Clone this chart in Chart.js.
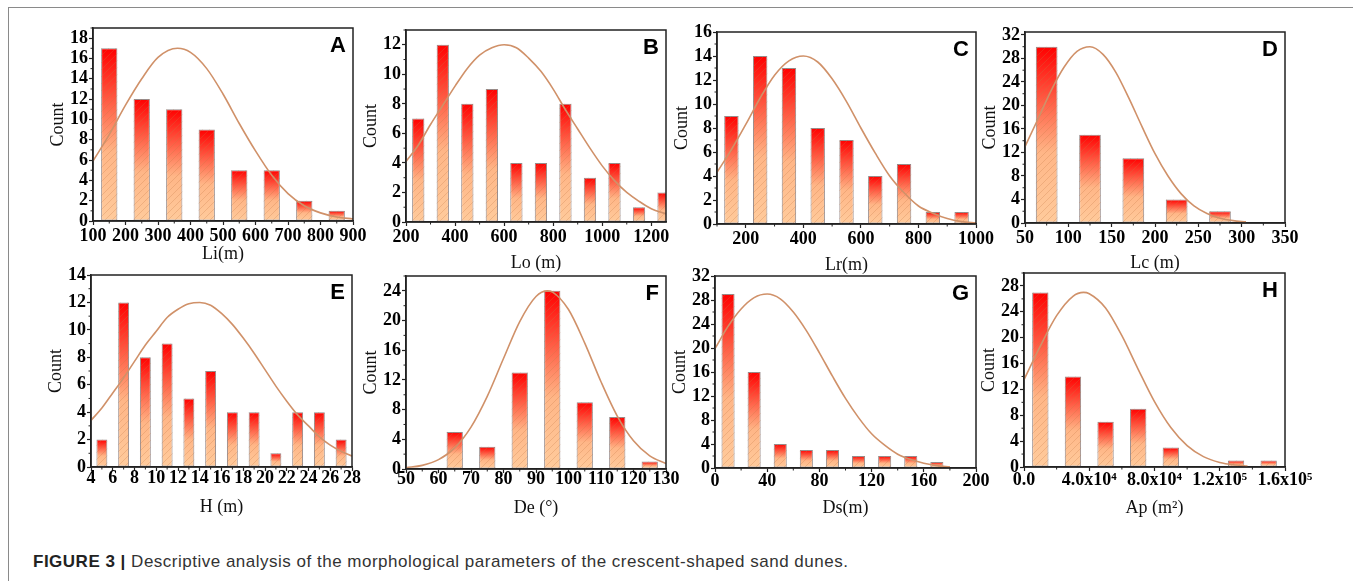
<!DOCTYPE html>
<html>
<head>
<meta charset="utf-8">
<script src="https://cdn.jsdelivr.net/npm/chart.js@4.4.1/dist/chart.umd.min.js"></script>
<style>
  body { margin: 0; width: 1353px; height: 581px; background: #fff; position: relative; overflow: hidden; }
  .frame { position: absolute; left: 8px; top: 7px; width: 1360px; height: 590px; border-top: 1px solid #8a8a8a; border-left: 1px solid #8a8a8a; }
  canvas { position: absolute; }
  .caption { position: absolute; left: 33px; top: 552px; font: 17px "Liberation Sans", Arial, sans-serif; letter-spacing: 0.5px; color: #333; line-height: 20px; white-space: nowrap; }
  .caption b { color: #222; }
</style>
</head>
<body>
<div class="frame"></div>
<div class="caption"><b>FIGURE 3 |</b> Descriptive analysis of the morphological parameters of the crescent-shaped sand dunes.</div>
<script>
// A - Li
const liBins = [150, 250, 350, 450, 550, 650, 750, 850];
const liCounts = [17, 12, 11, 9, 5, 5, 2, 1];
const liFitX = [100, 150, 200, 250, 300, 360, 400, 450, 500, 550, 600, 650, 700, 750, 800, 850, 900];
const liFitY = [5.9, 8.5, 11.4, 14.0, 16.1, 17.0, 16.6, 15.0, 12.5, 9.6, 6.9, 4.5, 2.7, 1.5, 0.8, 0.4, 0.2];
const liXTicks = [100, 200, 300, 400, 500, 600, 700, 800, 900];
const liYTicks = [0, 2, 4, 6, 8, 10, 12, 14, 16, 18];

// B - Lo
const loBins = [250, 350, 450, 550, 650, 750, 850, 950, 1050, 1150, 1250];
const loCounts = [7, 12, 8, 9, 4, 4, 8, 3, 4, 1, 2];
const loFitX = [200, 250, 300, 350, 400, 450, 500, 550, 600, 650, 700, 750, 800, 850, 900, 950, 1000, 1050, 1100, 1150, 1200, 1260];
const loFitY = [4.1, 5.2, 6.6, 7.9, 9.2, 10.4, 11.3, 11.8, 12.0, 11.8, 11.1, 10.2, 9.0, 7.6, 6.3, 5.0, 3.8, 2.8, 2.0, 1.4, 0.9, 0.55];
const loXTicks = [200, 400, 600, 800, 1000, 1200];
const loYTicks = [0, 2, 4, 6, 8, 10, 12];

// C - Lr
const lrBins = [150, 250, 350, 450, 550, 650, 750, 850, 950];
const lrCounts = [9, 14, 13, 8, 7, 4, 5, 1, 1];
const lrFitX = [100, 150, 200, 250, 300, 350, 400, 450, 500, 550, 600, 650, 700, 750, 800, 850, 900, 950, 1000];
const lrFitY = [4.3, 6.2, 8.3, 10.5, 12.4, 13.6, 14.0, 13.5, 12.1, 10.2, 8.0, 5.9, 4.0, 2.6, 1.5, 0.9, 0.45, 0.2, 0.1];
const lrXTicks = [200, 400, 600, 800, 1000];
const lrYTicks = [0, 2, 4, 6, 8, 10, 12, 14, 16];

// D - Lc
const lcBins = [75, 125, 175, 225, 275];
const lcCounts = [30, 15, 11, 4, 2];
const lcFitX = [50, 65, 80, 95, 110, 125, 140, 155, 170, 185, 200, 215, 230, 245, 260, 275, 290, 305];
const lcFitY = [13.0, 17.7, 22.5, 26.5, 29.2, 30.0, 28.7, 25.6, 21.2, 16.4, 11.8, 8.0, 5.0, 2.9, 1.6, 0.8, 0.4, 0.2];
const lcXTicks = [50, 100, 150, 200, 250, 300, 350];
const lcYTicks = [0, 4, 8, 12, 16, 20, 24, 28, 32];

// E - H
const hBins = [5, 7, 9, 11, 13, 15, 17, 19, 21, 23, 25, 27];
const hCounts = [2, 12, 8, 9, 5, 7, 4, 4, 1, 4, 4, 2];
const hFitX = [4, 5, 6, 7, 8, 9, 10, 11, 12, 13, 14, 15, 16, 17, 18, 19, 20, 21, 22, 23, 24, 25, 26, 27, 28];
const hFitY = [3.4, 4.3, 5.4, 6.5, 7.7, 8.9, 9.9, 10.9, 11.5, 11.9, 12.0, 11.8, 11.2, 10.4, 9.4, 8.3, 7.1, 5.9, 4.8, 3.8, 3.0, 2.2, 1.6, 1.15, 0.8];
const hXTicks = [4, 6, 8, 10, 12, 14, 16, 18, 20, 22, 24, 26, 28];
const hYTicks = [0, 2, 4, 6, 8, 10, 12, 14];

// F - De
const deBins = [65, 75, 85, 95, 105, 115, 125];
const deCounts = [5, 3, 13, 24, 9, 7, 1];
const deFitX = [50, 55, 60, 65, 70, 75, 80, 85, 90, 93.5, 95, 100, 105, 110, 115, 120, 125, 130];
const deFitY = [0.17, 0.49, 1.26, 2.85, 5.64, 9.78, 14.88, 19.86, 23.24, 24.0, 23.86, 21.48, 16.96, 11.75, 7.13, 3.8, 1.77, 0.73];
const deXTicks = [50, 60, 70, 80, 90, 100, 110, 120, 130];
const deYTicks = [0, 4, 8, 12, 16, 20, 24];

// G - Ds
const dsBins = [10, 30, 50, 70, 90, 110, 130, 150, 170];
const dsCounts = [29, 16, 4, 3, 3, 2, 2, 2, 1];
const dsFitX = [0, 10, 20, 30, 40, 50, 60, 70, 80, 90, 100, 110, 120, 130, 140, 150, 160, 170, 180];
const dsFitY = [19.9, 23.6, 26.5, 28.4, 29.0, 28.2, 26.0, 22.9, 19.2, 15.3, 11.6, 8.4, 5.7, 3.8, 2.3, 1.4, 0.8, 0.4, 0.2];
const dsXTicks = [0, 40, 80, 120, 160, 200];
const dsYTicks = [0, 4, 8, 12, 16, 20, 24, 28, 32];

// H - Ap
const apBins = [10000, 30000, 50000, 70000, 90000, 130000, 150000];
const apCounts = [27, 14, 7, 9, 3, 1, 1];
const apFitX = [0, 10000, 20000, 30000, 36500, 40000, 50000, 60000, 70000, 80000, 90000, 100000, 110000, 120000, 130000, 137000];
const apFitY = [13.5, 18.7, 23.4, 26.4, 27.0, 26.8, 24.6, 20.3, 15.1, 10.1, 6.1, 3.3, 1.6, 0.7, 0.3, 0.14];
const apXTicks = [0, 40000, 80000, 120000, 160000];
const apXLabels = ["0.0", "4.0x10\u2074", "8.0x10\u2074", "1.2x10\u2075", "1.6x10\u2075"];
const apYTicks = [0, 4, 8, 12, 16, 20, 24, 28];

// Panel layout (chart area in page pixels: left, top, right, bottom)
const panels = [
  { letter: "A", bins: liBins, counts: liCounts, fitX: liFitX, fitY: liFitY, xTicks: liXTicks, yTicks: liYTicks, xMin: 100, xMax: 900, yMax: 19, xTitle: "Li(m)", area: [93, 28, 353, 221], titleGap: 33, labelGap: 15 },
  { letter: "B", bins: loBins, counts: loCounts, fitX: loFitX, fitY: loFitY, xTicks: loXTicks, yTicks: loYTicks, xMin: 200, xMax: 1260, yMax: 13, xTitle: "Lo (m)", area: [406, 30, 666, 222], titleGap: 41, labelGap: 15 },
  { letter: "C", bins: lrBins, counts: lrCounts, fitX: lrFitX, fitY: lrFitY, xTicks: lrXTicks, yTicks: lrYTicks, xMin: 100, xMax: 1000, yMax: 16, xTitle: "Lr(m)", area: [717, 32, 976, 224], titleGap: 41, labelGap: 15 },
  { letter: "D", bins: lcBins, counts: lcCounts, fitX: lcFitX, fitY: lcFitY, xTicks: lcXTicks, yTicks: lcYTicks, xMin: 50, xMax: 350, yMax: 32.5, xTitle: "Lc (m)", area: [1025, 32, 1285, 223], titleGap: 40, labelGap: 15 },
  { letter: "E", bins: hBins, counts: hCounts, fitX: hFitX, fitY: hFitY, xTicks: hXTicks, yTicks: hYTicks, xMin: 4, xMax: 28, yMax: 14, xTitle: "H (m)", area: [91, 275, 352, 467], titleGap: 40, labelGap: 11 },
  { letter: "F", bins: deBins, counts: deCounts, fitX: deFitX, fitY: deFitY, xTicks: deXTicks, yTicks: deYTicks, xMin: 50, xMax: 130, yMax: 26, xTitle: "De (\u00b0)", area: [406, 276, 666, 469], titleGap: 39, labelGap: 10 },
  { letter: "G", bins: dsBins, counts: dsCounts, fitX: dsFitX, fitY: dsFitY, xTicks: dsXTicks, yTicks: dsYTicks, xMin: 0, xMax: 200, yMax: 32, xTitle: "Ds(m)", area: [715, 276, 976, 468], titleGap: 40, labelGap: 13 },
  { letter: "H", bins: apBins, counts: apCounts, fitX: apFitX, fitY: apFitY, xTicks: apXTicks, xLabels: apXLabels, yTicks: apYTicks, xMin: 0, xMax: 160000, yMax: 30, xTitle: "Ap (m\u00b2)", area: [1024, 273, 1285, 467], titleGap: 41, labelGap: 13 }
];

const PAD_L = 70, PAD_T = 20, PAD_R = 45, PAD_B = 60;
const TICK_LEN = 4;
const serif = '"Liberation Serif", "Times New Roman", serif';

// Diagonal hatch used on top of the gradient bars
function makeHatch() {
  const c = document.createElement("canvas");
  c.width = 7; c.height = 7;
  const g = c.getContext("2d");
  g.strokeStyle = "rgba(196, 120, 70, 0.35)";
  g.lineWidth = 0.8;
  g.beginPath();
  g.moveTo(-1, 8); g.lineTo(8, -1);
  g.stroke();
  return g.createPattern(c, "repeat");
}
const hatch = makeHatch();

// Red-to-peach gradient spanning each bar
function barGradient(ctx) {
  const chart = ctx.chart;
  if (!chart.chartArea || ctx.type !== "data") return "#ff6040";
  const y = chart.scales.y;
  const top = y.getPixelForValue(ctx.parsed.y);
  const bottom = y.getPixelForValue(0);
  const g = chart.ctx.createLinearGradient(0, top, 0, bottom);
  g.addColorStop(0, "#ff0000");
  g.addColorStop(0.6, "#ffb687");
  g.addColorStop(1, "#ffcb9c");
  return g;
}

// Frame, minor ticks and panel letter
const panelDecor = {
  id: "panelDecor",
  afterDraw(chart, args, opts) {
    const { ctx, chartArea: a, scales } = chart;
    ctx.save();
    ctx.strokeStyle = "#222";
    ctx.lineWidth = 1;
    // minor ticks at half steps
    [scales.x, scales.y].forEach((s) => {
      const vals = s.ticks.map((t) => t.value);
      const step = vals[1] - vals[0];
      ctx.beginPath();
      for (let v = vals[0] - step / 2; v <= s.max + 1e-9; v += step) {
        if (v < s.min - 1e-9) continue;
        const p = s.getPixelForValue(v);
        if (s.isHorizontal()) {
          ctx.moveTo(p, a.bottom); ctx.lineTo(p, a.bottom + 2.5);
        } else {
          ctx.moveTo(a.left, p); ctx.lineTo(a.left - 2.5, p);
        }
      }
      ctx.stroke();
    });
    ctx.lineWidth = 1.5;
    ctx.strokeRect(a.left, a.top, a.right - a.left, a.bottom - a.top);
    ctx.fillStyle = "#000";
    ctx.font = 'bold 22px "Liberation Sans", Arial, sans-serif';
    ctx.textAlign = "right";
    ctx.textBaseline = "middle";
    ctx.fillText(opts.letter, a.right - 7, a.top + 18);
    ctx.restore();
  }
};

panels.forEach((p) => {
  const [l, t, r, b] = p.area;
  const canvas = document.createElement("canvas");
  canvas.width = r - l + PAD_L + PAD_R;
  canvas.height = b - t + PAD_T + PAD_B;
  canvas.style.left = (l - PAD_L) + "px";
  canvas.style.top = (t - PAD_T) + "px";
  document.body.appendChild(canvas);

  const barData = p.bins.map((x, i) => ({ x: x, y: p.counts[i] }));
  const fitData = p.fitX.map((x, i) => ({ x: x, y: p.fitY[i] }));

  new Chart(canvas, {
    type: "bar",
    data: {
      datasets: [
        {
          type: "line",
          data: fitData,
          borderColor: "rgb(208, 145, 105)",
          borderWidth: 1.6,
          pointRadius: 0,
          cubicInterpolationMode: "monotone",
          order: 0
        },
        {
          data: barData,
          backgroundColor: hatch,
          borderWidth: 0,
          grouped: false,
          barPercentage: 0.5,
          categoryPercentage: 1,
          order: 1
        },
        {
          data: barData,
          backgroundColor: barGradient,
          borderColor: "rgba(140, 128, 128, 0.9)",
          borderWidth: 1,
          borderSkipped: false,
          grouped: false,
          barPercentage: 0.5,
          categoryPercentage: 1,
          order: 2
        }
      ]
    },
    options: {
      responsive: false,
      animation: false,
      events: [],
      layout: { padding: { left: 0, top: PAD_T, right: PAD_R, bottom: 0 } },
      plugins: {
        legend: { display: false },
        tooltip: { enabled: false },
        panelDecor: { letter: p.letter }
      },
      scales: {
        x: {
          type: "linear",
          min: p.xMin,
          max: p.xMax,
          offset: false,
          afterFit: (s) => { s.height = PAD_B; },
          afterBuildTicks: (s) => { s.ticks = p.xTicks.map((v) => ({ value: v })); },
          grid: { offset: false, drawOnChartArea: false, tickLength: TICK_LEN, tickColor: "#222", tickWidth: 1.2 },
          border: { color: "#222", width: 1.5 },
          ticks: {
            autoSkip: false,
            maxRotation: 0,
            minRotation: 0,
            padding: p.labelGap - TICK_LEN - 10.8,
            color: "#000",
            font: { family: serif, size: 18, weight: "bold" },
            callback: (v, i) => (p.xLabels ? p.xLabels[i] : String(v))
          },
          title: {
            display: true,
            text: p.xTitle,
            color: "#111",
            font: { family: serif, size: 18 },
            padding: { top: 0, bottom: PAD_B - p.titleGap - 10.8 }
          }
        },
        y: {
          min: 0,
          max: p.yMax,
          afterFit: (s) => { s.width = PAD_L; },
          afterBuildTicks: (s) => { s.ticks = p.yTicks.map((v) => ({ value: v })); },
          grid: { drawOnChartArea: false, tickLength: TICK_LEN, tickColor: "#222", tickWidth: 1.2 },
          border: { color: "#222", width: 1.5 },
          ticks: {
            autoSkip: false,
            padding: 1,
            color: "#000",
            font: { family: serif, size: 18, weight: "bold" },
            callback: (v) => String(v)
          },
          title: {
            display: true,
            text: "Count",
            color: "#111",
            font: { family: serif, size: 18 },
            padding: { top: 35 - 10.8, bottom: 0 }
          }
        }
      }
    },
    plugins: [panelDecor]
  });
});
</script>
</body>
</html>
